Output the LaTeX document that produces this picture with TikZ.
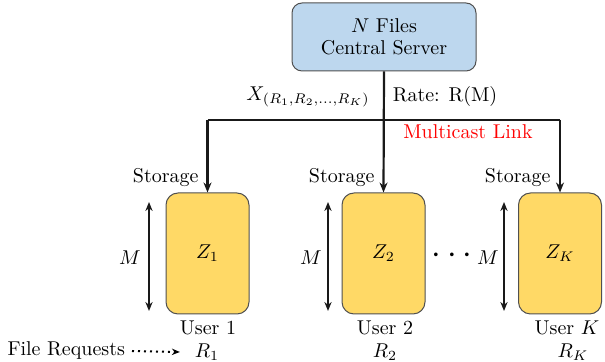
\documentclass[tikz,border=0pt]{standalone}
\usetikzlibrary{arrows.meta}
\definecolor{serverblue}{RGB}{189,215,238}
\definecolor{useryellow}{RGB}{255,217,102}
\definecolor{edgegray}{RGB}{80,80,80}
\begin{document}
\begin{tikzpicture}[x=0.5pt,y=-0.5pt,
  serverbox/.style={draw=edgegray,fill=serverblue,rounded corners=5pt,minimum width=92pt,minimum height=34pt,align=center,inner sep=0pt,line width=0.5pt},
  userbox/.style={draw=edgegray,fill=useryellow,rounded corners=6pt,minimum width=41.5pt,minimum height=60.5pt,inner sep=0pt,line width=0.5pt},
  link/.style={line width=1.1pt,black!90},
  linkarrow/.style={link,-{Stealth[length=5pt,width=4pt]}},
  dimarrow/.style={line width=1.1pt,black!90,{Stealth[length=4.5pt,width=3.6pt]}-{Stealth[length=4.5pt,width=3.6pt]}}
]
\useasboundingbox (0,0) rectangle (605,362);
\node[serverbox] (srv) at (384,37) {$N$ Files\\[-1pt]Central Server};
\node[userbox] (u1) at (207.5,253.5) {$Z_1$};
\node[userbox] (u2) at (383.5,253.5) {$Z_2$};
\node[userbox] (uk) at (560,253.5) {$Z_K$};
\coordinate (h) at (384,120);
\coordinate (hl) at (u1.north |- h);
\coordinate (hr) at (uk.north |- h);
\draw[linkarrow] (srv.south) -- (u2.north);
\draw[link] (hl) -- (hr);
\draw[linkarrow] (hl) -- (u1.north);
\draw[linkarrow] (hr) -- (uk.north);
\node[anchor=east,inner sep=0pt] (s1) at (199,178) {Storage};
\node[anchor=east,inner sep=0pt] (s2) at (375,178) {Storage};
\node[anchor=east,inner sep=0pt] (sk) at (551,178) {Storage};
\node (xl) at (308,97) {$X_{(R_1,R_2,\ldots,R_K)}$};
\node (rate) at (445,97) {Rate: R(M)};
\node[text=red] (mc) at (468,132) {Multicast Link};
\coordinate (m1t) at (149,202); \coordinate (m1b) at (149,311);
\coordinate (m2t) at (328,202); \coordinate (m2b) at (328,311);
\coordinate (mkt) at (504,202); \coordinate (mkb) at (504,311);
\draw[dimarrow] (m1t) -- (m1b);
\draw[dimarrow] (m2t) -- (m2b);
\draw[dimarrow] (mkt) -- (mkb);
\node (ml1) at (130,258) {$M$};
\node (ml2) at (311,258) {$M$};
\node (mlk) at (488,258) {$M$};
\node (dots) at (452,256) {\LARGE$\cdots$};
\node (us1) at (208,328) {User 1};
\node (us2) at (385,328) {User 2};
\node (usk) at (567,328) {User $K$};
\node (r1) at (207,352) {$R_1$};
\node (r2) at (385,352) {$R_2$};
\node (rk) at (573,352) {$R_K$};
\node[anchor=east] (fr) at (132,351) {File Requests};
\draw[line width=1pt,dotted,-{Stealth[length=4pt,width=3.2pt]}] (fr.east) -- ([xshift=-4pt]r1.west);
\end{tikzpicture}
\end{document}
